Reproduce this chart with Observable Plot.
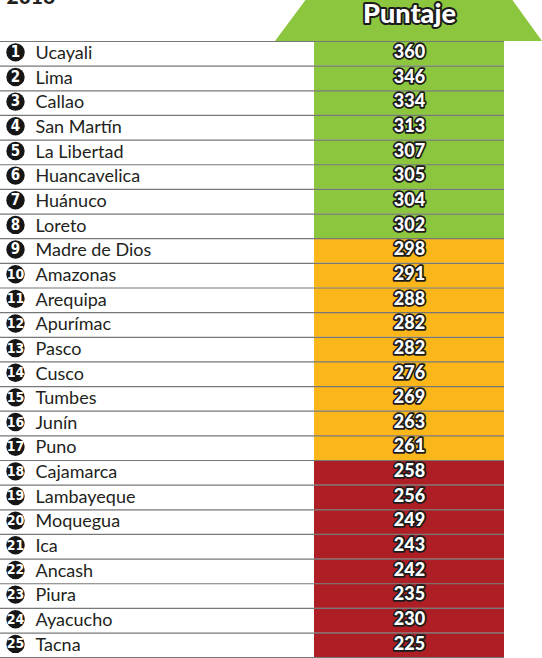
<!DOCTYPE html>
<html>
<head>
<meta charset="utf-8">
<script src="https://cdn.jsdelivr.net/npm/d3@7"></script>
<script src="https://cdn.jsdelivr.net/npm/@observablehq/plot@0.6"></script>
<style>
  html, body { margin: 0; padding: 0; background: #fff; }
  #chart svg { display: block; }
</style>
</head>
<body>
<div id="chart"></div>
<script>
// ---- Data ----
const anio = "2016";
const encabezado = "Puntaje";
const departamentos = ["Ucayali","Lima","Callao","San Martín","La Libertad","Huancavelica","Huánuco","Loreto",
  "Madre de Dios","Amazonas","Arequipa","Apurímac","Pasco","Cusco","Tumbes","Junín","Puno",
  "Cajamarca","Lambayeque","Moquegua","Ica","Ancash","Piura","Ayacucho","Tacna"];
const puntajes = [360,346,334,313,307,305,304,302,298,291,288,282,282,276,269,263,261,258,256,249,243,242,235,230,225];
const niveles = ["alto","alto","alto","alto","alto","alto","alto","alto",
  "medio","medio","medio","medio","medio","medio","medio","medio","medio",
  "bajo","bajo","bajo","bajo","bajo","bajo","bajo","bajo"];
const nivelOrden = ["alto","medio","bajo"];
const nivelColores = ["#8cc63f","#fbb619","#ae1f25"];

const filas = departamentos.map((d, i) => ({rank: i + 1, nombre: d, puntaje: puntajes[i], nivel: niveles[i]}));

// ---- Layout constants (pixels on identity x scale, row units on y) ----
const W = 542, H = 658;
const COL_X1 = 314, COL_X2 = 504, COL_MID = 409;
const LINE_END = 504;
const arrowShape = [
  {x: 275, y: 0}, {x: 308, y: -1.8}, {x: 510, y: -1.8}, {x: 542, y: 0}
];
const narrow = "'Liberation Sans Narrow', 'DejaVu Sans Condensed', sans-serif";

const chart = Plot.plot({
  width: W,
  height: H,
  margin: 0,
  style: {background: "#fff", overflow: "hidden"},
  x: {type: "linear", domain: [0, W], range: [0, W], axis: null},
  y: {type: "linear", domain: [0, departamentos.length], range: [41, 657.2], axis: null},
  color: {type: "categorical", domain: nivelOrden, range: nivelColores},
  marks: [
    // header arrow
    Plot.areaY(arrowShape, {x: "x", y1: 0, y2: "y", fill: nivelColores[0], curve: "linear"}),
    // score column cells
    Plot.rect(filas, {x1: COL_X1, x2: COL_X2, y1: d => d.rank - 1, y2: d => d.rank, fill: "nivel"}),
    // row separators
    Plot.ruleY([0, ...filas.map(d => d.rank)], {x1: 0, x2: LINE_END, stroke: "#777", strokeWidth: 1.2}),
    // rank circles
    Plot.dot(filas, {x: 15, y: d => d.rank - 0.56, r: 9.2, fill: "#161616", stroke: "none"}),
    Plot.text(filas.filter(d => d.rank < 10), {x: 15, y: d => d.rank - 0.56, text: d => String(d.rank), fill: "#fff",
      fontSize: 15, fontWeight: "bold", fontFamily: narrow}),
    Plot.text(filas.filter(d => d.rank >= 10), {x: 15, y: d => d.rank - 0.56, text: d => String(d.rank), fill: "#fff",
      fontSize: 14, fontWeight: "bold", fontFamily: narrow, style: "letter-spacing:-0.6px"}),
    // names
    Plot.text(filas, {x: 35, y: d => d.rank - 0.52, text: "nombre", textAnchor: "start", fill: "#231f20",
      fontSize: 18, fontFamily: "Lato, sans-serif"}),
    // scores
    Plot.text(filas, {x: COL_MID, y: d => d.rank - 0.56, text: d => String(d.puntaje), fill: "#fff",
      stroke: "#1b1b1b", strokeWidth: 3.5, paintOrder: "stroke", strokeLinejoin: "round",
      fontSize: 18, fontWeight: 900, fontFamily: "Lato, sans-serif"}),
    // header
    Plot.text([encabezado], {x: COL_MID, y: -1.12, text: d => d, fill: "#fff",
      stroke: "#1b1b1b", strokeWidth: 4, paintOrder: "stroke", strokeLinejoin: "round",
      fontSize: 27, fontWeight: 900, fontFamily: "Lato, sans-serif"}),
    // year (cut off at top, as in the original)
    Plot.text([anio], {x: 6, y: -1.8, text: d => d, textAnchor: "start", fill: "#231f20",
      fontSize: 21, fontWeight: 900, fontFamily: "Lato, sans-serif"})
  ]
});

document.getElementById("chart").appendChild(chart);
</script>
</body>
</html>
